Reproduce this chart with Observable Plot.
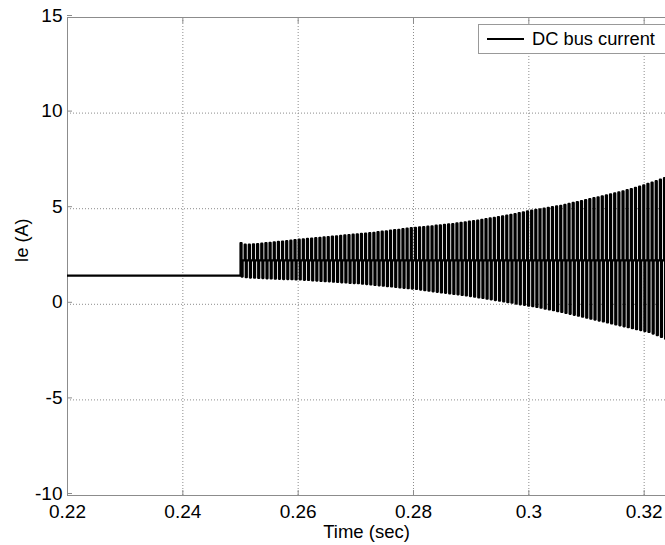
<!DOCTYPE html>
<html><head><meta charset="utf-8">
<script src="https://cdn.jsdelivr.net/npm/d3@7"></script>
<script src="https://cdn.jsdelivr.net/npm/@observablehq/plot@0.6"></script>
<style>
body{margin:0;background:#fff;overflow:hidden;}
#wrap{position:relative;width:665px;height:545px;overflow:hidden;font-family:Arial,"Liberation Sans",sans-serif;}
#legend{position:absolute;left:478px;top:24px;width:200px;height:28px;border:1px solid #999;background:#fff;}
#legend .ln{position:absolute;left:8px;top:13px;width:37px;height:0;border-top:2px solid #000;}
#legend .tx{position:absolute;left:53px;top:0;line-height:28px;font-size:18.3px;color:#000;white-space:nowrap;}
</style></head>
<body><div id="wrap"><div id="chart"></div>
<div id="legend"><div class="ln"></div><div class="tx">DC bus current</div></div></div>
<script>
// axis ticks
const xTicks = [0.22, 0.24, 0.26, 0.28, 0.3, 0.32];
const yTicks = [-10, -5, 0, 5, 10, 15];
// steady part before the step
const steadyTime = [0.22, 0.25];
const steadyValue = [1.5, 1.5];
// oscillation after 0.25 s
const pulseStart = 0.25;
const pulsePeriod = 0.00072;
const midLevel = 2.3;
const upperPeaks = [
 3.2, 3.12, 3.12, 3.14, 3.15, 3.17, 3.2,
 3.22, 3.24, 3.26, 3.28, 3.3, 3.33, 3.36,
 3.38, 3.4, 3.42, 3.44, 3.46, 3.48, 3.5,
 3.52, 3.54, 3.56, 3.58, 3.6, 3.62, 3.64,
 3.66, 3.68, 3.7, 3.72, 3.74, 3.77, 3.8,
 3.82, 3.85, 3.88, 3.9, 3.93, 3.96, 3.98,
 4.0, 4.02, 4.04, 4.06, 4.08, 4.11, 4.13,
 4.15, 4.18, 4.2, 4.23, 4.26, 4.29, 4.32,
 4.35, 4.38, 4.42, 4.45, 4.49, 4.52, 4.56,
 4.6, 4.64, 4.68, 4.72, 4.77, 4.81, 4.86,
 4.9, 4.94, 4.97, 5.01, 5.05, 5.08, 5.12,
 5.15, 5.2, 5.25, 5.3, 5.35, 5.4, 5.45,
 5.5, 5.55, 5.6, 5.65, 5.7, 5.75, 5.8,
 5.85, 5.91, 5.97, 6.03, 6.09, 6.15, 6.22,
 6.3, 6.37, 6.44, 6.52, 6.6
];
const lowerPeaks = [
 1.45, 1.42, 1.4, 1.39, 1.38, 1.37, 1.36,
 1.35, 1.34, 1.33, 1.32, 1.32, 1.31, 1.3,
 1.3, 1.28, 1.27, 1.25, 1.24, 1.22, 1.21,
 1.2, 1.18, 1.17, 1.15, 1.14, 1.12, 1.11,
 1.1, 1.08, 1.06, 1.04, 1.01, 0.99, 0.97,
 0.95, 0.93, 0.91, 0.88, 0.86, 0.84, 0.82,
 0.8, 0.77, 0.74, 0.71, 0.68, 0.65, 0.62,
 0.6, 0.57, 0.54, 0.52, 0.49, 0.46, 0.43,
 0.4, 0.36, 0.33, 0.29, 0.26, 0.22, 0.19,
 0.15, 0.11, 0.08, 0.04, 0.0, -0.03, -0.07,
 -0.1, -0.14, -0.18, -0.23, -0.27, -0.31, -0.36,
 -0.4, -0.45, -0.5, -0.55, -0.6, -0.65, -0.7,
 -0.75, -0.8, -0.85, -0.9, -0.95, -1.0, -1.05,
 -1.1, -1.15, -1.2, -1.25, -1.3, -1.35, -1.4,
 -1.45, -1.53, -1.62, -1.71, -1.8
];

// build the polyline
const pts = steadyTime.map((t, i) => ({t, v: steadyValue[i]}));
const q = pulsePeriod * 0.26;
upperPeaks.forEach((hi, i) => {
  const t = pulseStart + i * pulsePeriod;
  const lo = lowerPeaks[i];
  pts.push({t, v: i === 0 ? steadyValue[1] : midLevel});
  pts.push({t, v: hi});
  pts.push({t: t + q, v: hi});
  pts.push({t: t + q, v: lo});
  pts.push({t: t + 2 * q, v: lo});
  pts.push({t: t + 2 * q, v: midLevel});
});

const gridStyle = {stroke: "#8c8c8c", strokeOpacity: 1, strokeDasharray: "1,2", strokeWidth: 1};
const font = "Arial, 'Liberation Sans', sans-serif";

const chart = Plot.plot({
  width: 665, height: 545,
  marginLeft: 67, marginRight: 0, marginTop: 17, marginBottom: 50,
  style: {fontFamily: font, fontSize: "19px", color: "#000", background: "#fff"},
  x: {domain: [0.22, 0.3237]},
  y: {domain: [-10, 15]},
  marks: [
    Plot.gridX(xTicks, gridStyle),
    Plot.gridY(yTicks, gridStyle),
    Plot.ruleY([-10, 15], {stroke: "#8c8c8c"}),
    Plot.ruleX([0.22], {stroke: "#8c8c8c"}),
    Plot.axisX(xTicks, {anchor: "bottom", tickSize: -5, tickPadding: 14, stroke: "#8c8c8c", fill: "#000", tickFormat: d => String(d), fontSize: 19, label: null}),
    Plot.axisX(xTicks, {anchor: "top", tickSize: -5, stroke: "#8c8c8c", tickFormat: () => "", label: null}),
    Plot.axisY(yTicks, {anchor: "left", tickSize: -5, tickPadding: 10, stroke: "#8c8c8c", fill: "#000", tickFormat: d => String(d), fontSize: 19, dy: -2, label: null}),
    Plot.line(pts, {x: "t", y: "v", stroke: "#000", strokeWidth: 2.2, clip: true, curve: "linear"}),
    Plot.text(["Time (sec)"], {frameAnchor: "bottom", lineAnchor: "top", dy: 29, fontSize: 18.5, fill: "#000"}),
    Plot.text(["Ie (A)"], {frameAnchor: "left", lineAnchor: "bottom", rotate: -90, dx: -40, dy: 6, fontSize: 18, fill: "#000"})
  ]
});
document.getElementById("chart").appendChild(chart);
</script>
</body></html>
